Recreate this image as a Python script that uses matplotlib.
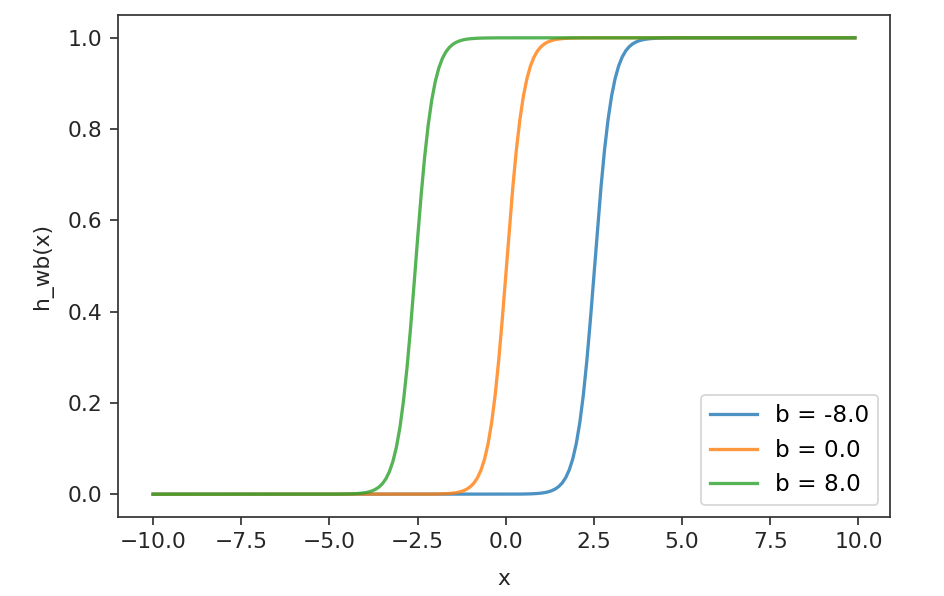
import numpy as np
import matplotlib
matplotlib.use("Agg")
import matplotlib.pyplot as plt

# Logistic curves: bias labels, the x position of the
# 0.5 crossing for each one, and the steepness of the rise
b_values = [-8.0, 0.0, 8.0]
midpoints = [2.52, 0.02, -2.56]
steepness = 4.0
x_start, x_stop, x_step = -10.0, 10.0, 0.1
colors = ["#1f77b4", "#ff7f0e", "#2ca02c"]
x_ticks = [-10.0, -7.5, -5.0, -2.5, 0.0, 2.5, 5.0, 7.5, 10.0]
y_ticks = [0.0, 0.2, 0.4, 0.6, 0.8, 1.0]

s = 2.18 * 72 / 100  # scale factor from 72 dpi notebook rendering
plt.rcParams["font.family"] = "DejaVu Sans"
plt.rcParams["font.size"] = 10 * s

fig = plt.figure(figsize=(9.44, 5.96), dpi=100)
ax = fig.add_axes([118 / 944, 1 - 517 / 596, (890 - 118) / 944, (517 - 15) / 596])

x = np.arange(x_start, x_stop, x_step)
for b, m, c in zip(b_values, midpoints, colors):
    h = 1.0 / (1.0 + np.exp(-steepness * (x - m)))
    ax.plot(x, h, color=c, alpha=0.8, linewidth=1.5 * s, label=f"b = {b}")

ax.set_xticks(x_ticks)
ax.set_yticks(y_ticks)
ax.set_xlabel("x", labelpad=7.5 * s)
ax.set_ylabel("h_wb(x)", labelpad=7 * s)
for sp in ax.spines.values():
    sp.set_linewidth(0.8 * s)
    sp.set_color("#333333")
ax.tick_params(width=0.8 * s, length=3.5 * s, colors="#333333",
               labelcolor="#262626", pad=3.5 * s)
ax.xaxis.label.set_color("#262626")
ax.yaxis.label.set_color("#262626")
leg = ax.legend(loc="lower right", fontsize=10.6 * s, borderaxespad=0.5)
leg.get_frame().set_linewidth(0.8 * s)

fig.savefig("out.png", dpi=100)
